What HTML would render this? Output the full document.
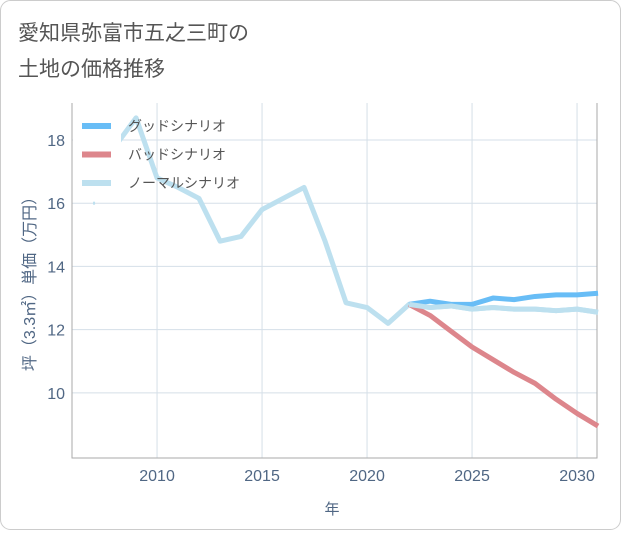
<!DOCTYPE html>
<html><head><meta charset="utf-8"><style>
body{margin:0;background:#fff;font-family:"Liberation Sans","Noto Sans CJK JP",sans-serif;}
#wrap{position:relative;width:621px;height:530px;}
</style></head><body>
<div id="wrap">
<svg id="chart" width="621" height="530">
<rect x="0.5" y="0.5" width="620" height="529" rx="10" fill="#fff" stroke="#ccc"/>
<text x="18" y="40" font-size="21" fill="#555">愛知県弥富市五之三町の</text>
<text x="18" y="76" font-size="21" fill="#555">土地の価格推移</text>
<g id="grid"></g>
<g id="series"></g>
<g id="legend"></g>
<text x="332" y="514" font-size="15" fill="#506784" text-anchor="middle">年</text>
<text transform="translate(35,280) rotate(-90)" font-size="16" fill="#506784" text-anchor="middle">坪（3.3㎡）単価（万円）</text>
</svg>
</div>
<script>
const years=[2007,2008,2009,2010,2011,2012,2013,2014,2015,2016,2017,2018,2019,2020,2021,2022,2023,2024,2025,2026,2027,2028,2029,2030,2031];
const normal=[16.0,17.8,18.7,16.8,16.5,16.15,14.8,14.95,15.8,16.15,16.5,14.8,12.85,12.7,12.2,12.8,12.7,12.75,12.65,12.7,12.65,12.65,12.6,12.65,12.55];
const goodYears=[2022,2023,2024,2025,2026,2027,2028,2029,2030,2031];
const good=[12.8,12.9,12.8,12.8,13.0,12.95,13.05,13.1,13.1,13.15];
const bad=[12.8,12.45,11.95,11.45,11.05,10.65,10.3,9.8,9.35,8.95];
const xTicks=[2010,2015,2020,2025,2030];
const yTicks=[10,12,14,16,18];
const L=72,R=597,T=103,B=458,X0=2005.95,X1=2030.95,Y0=7.94,Y1=19.17;
const sx=v=>L+(v-X0)/(X1-X0)*(R-L);
const sy=v=>B-(v-Y0)/(Y1-Y0)*(B-T);
const NS="http://www.w3.org/2000/svg";
function mk(tag,attrs,parent){const e=document.createElementNS(NS,tag);for(const k in attrs)e.setAttribute(k,attrs[k]);parent.appendChild(e);return e;}
const grid=document.getElementById('grid');
xTicks.forEach(t=>{
 const l=mk('line',{x1:sx(t),x2:sx(t),y1:T,y2:B,stroke:'#d5dfe8'},grid);
 
 
 const tx=mk('text',{x:sx(t),y:B+23,'font-size':16,fill:'#506784','text-anchor':'middle'},grid);
 tx.textContent=t;
 
 
});
yTicks.forEach(t=>{
 const l=mk('line',{x1:L,x2:R,y1:sy(t),y2:sy(t),stroke:'#d5dfe8'},grid);
 
 
 const tx=mk('text',{x:L-7,y:sy(t)+6,'font-size':16,fill:'#506784','text-anchor':'end'},grid);
 tx.textContent=t;
 
 
});
const ax=mk('path',{d:`M${L},${T}V${B}H${R}V${T}`,fill:'none',stroke:'#aaa'},grid);


const ser=document.getElementById('series');
function line(xs,vals,color,name){
 const p=mk('polyline',{points:xs.map((y,i)=>sx(y)+','+sy(vals[i])).join(' '),fill:'none',stroke:color,'stroke-width':5,'stroke-linejoin':'round'},ser);
 
 
}
line(years.slice(1),normal.slice(1),'#bde0ef','normal-scenario-line');
const dot=mk('line',{x1:sx(years[0])-1,x2:sx(years[0])+1,y1:sy(normal[0]),y2:sy(normal[0]),stroke:'#bde0ef','stroke-width':3},ser);


line(goodYears,bad,'#dd868c','bad-scenario-line');
line(goodYears,good,'#68bdf6','good-scenario-line');
line(goodYears,normal.slice(15),'#bde0ef','normal-scenario-forecast-line');
const lg=document.getElementById('legend');
const bg=mk('rect',{x:73,y:110,width:48,height:85,fill:'#fff'},lg);


[['グッドシナリオ','#68bdf6'],['バッドシナリオ','#dd868c'],['ノーマルシナリオ','#bde0ef']].forEach((d,i)=>{
 const y=126+i*28.5;
 const g=mk('g',{},lg);
 
 
 mk('line',{x1:82,x2:111,y1:y,y2:y,stroke:d[1],'stroke-width':6},g);
 const t=mk('text',{x:128,y:y+5,'font-size':14,fill:'#555'},g);
 t.textContent=d[0];
});
</script>
</body></html>
